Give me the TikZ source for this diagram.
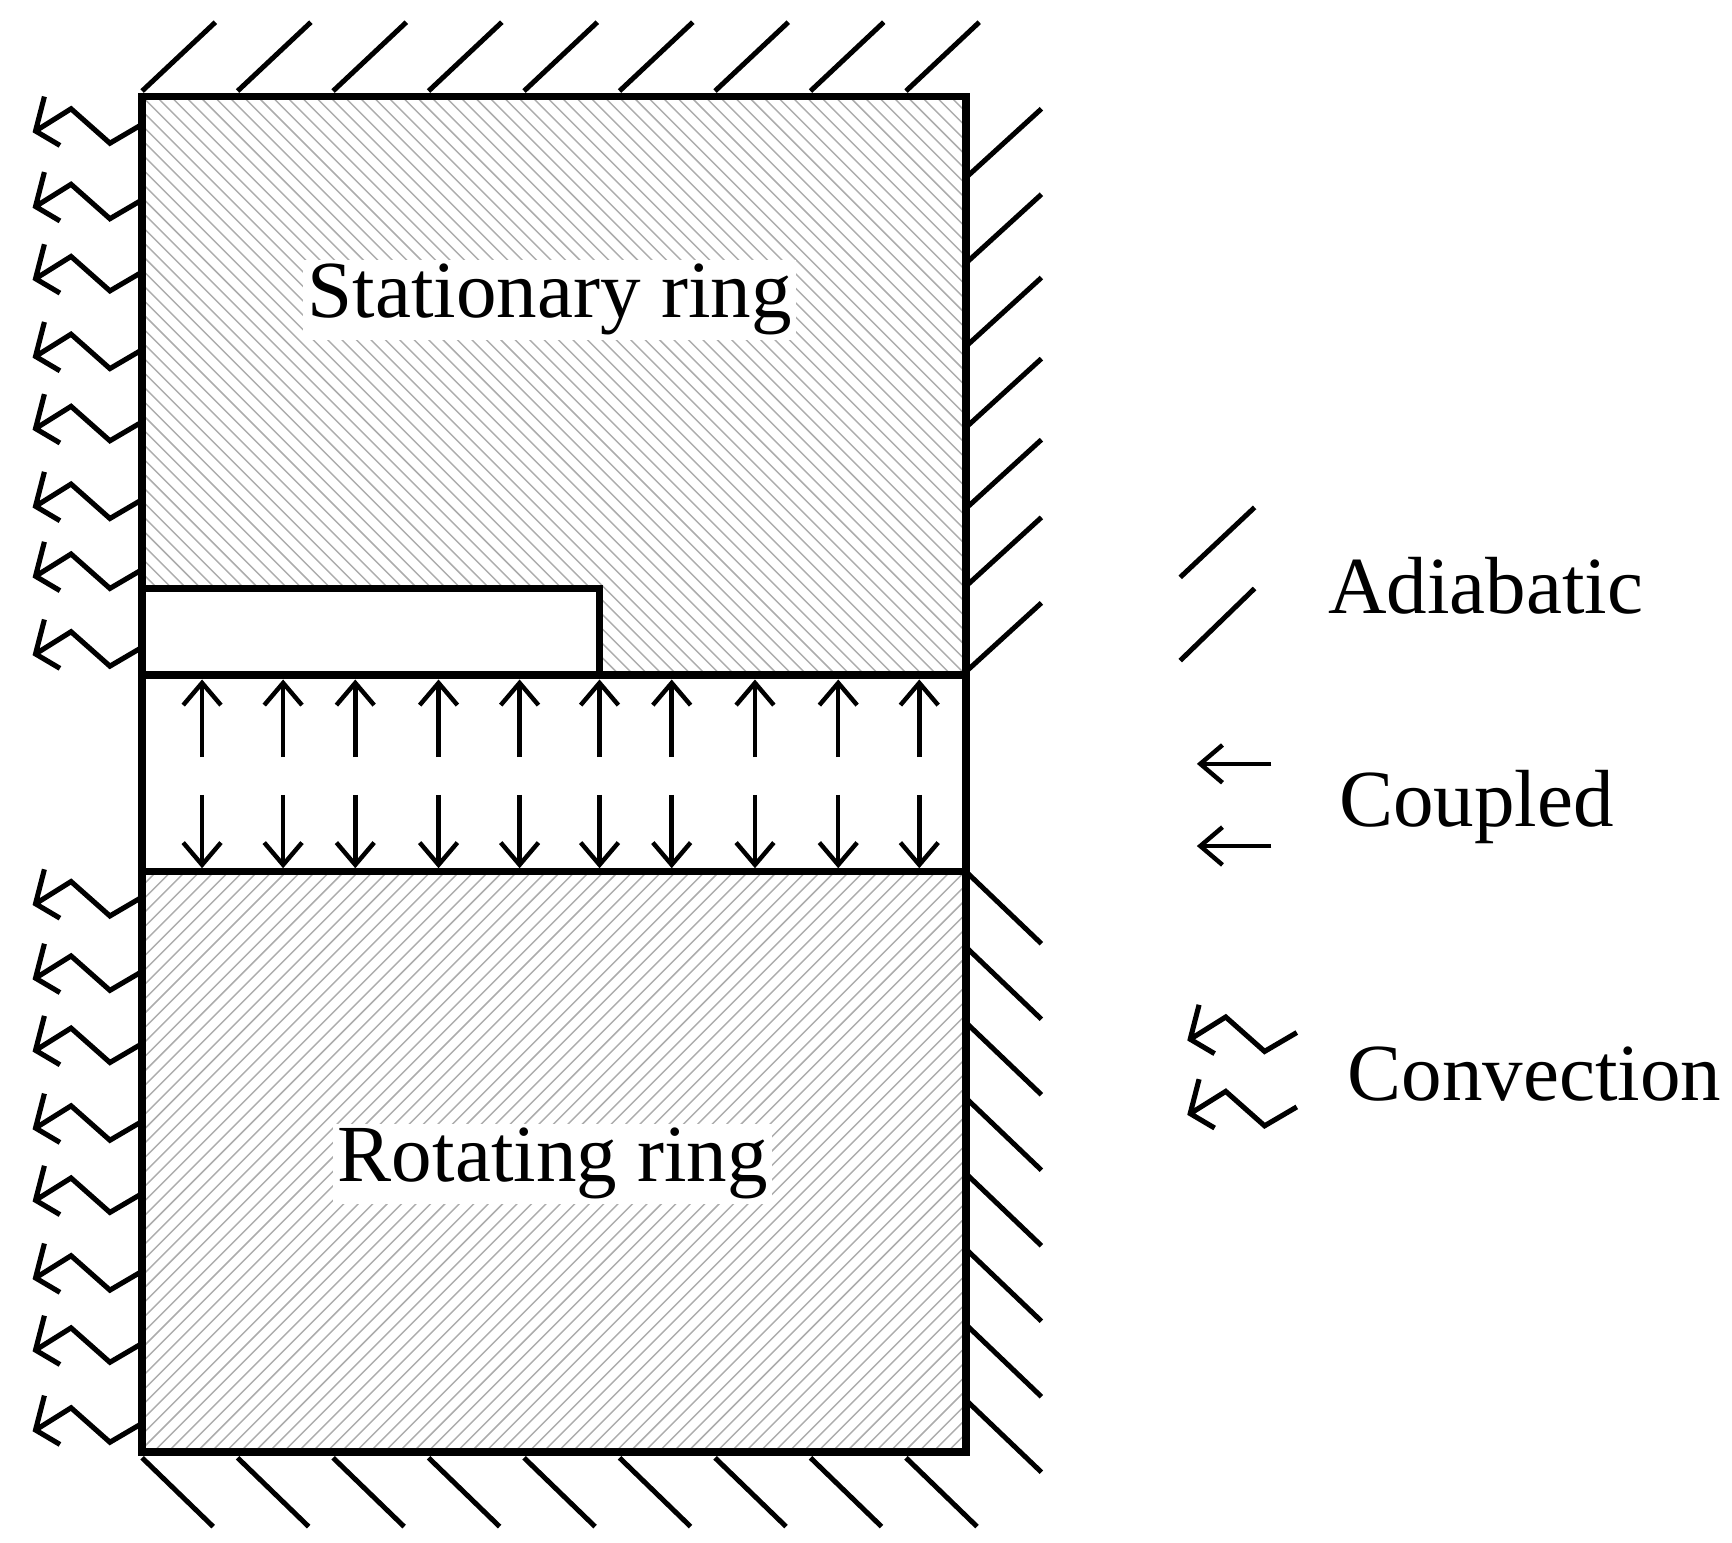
\documentclass[tikz,border=0pt]{standalone}
\usetikzlibrary{arrows.meta}
\usepackage{fontspec}
\setmainfont{Liberation Serif}
\begin{document}
\begin{tikzpicture}[x=1pt,y=-1pt,
  wall/.style={line width=6.8pt},
  tick/.style={line width=4.5pt},
  arr/.style={line width=4pt,-{Straight Barb[length=20pt,width=34pt,line width=4pt]}},
  hatch/.style={gray!65,line width=1.3pt},
  lbl/.style={font=\fontsize{73}{80}\selectfont,inner sep=4pt},
  conv/.pic={\draw[line width=4.6pt,line join=miter] (0,0)--(-29,17)--(-64,-14)--(-96,6) (-88,-25)--(-96,6)--(-74,19);}]
\useasboundingbox (0,0) rectangle (1560,1389);
% hatching
\begin{scope}
\clip (128,87) rectangle (870,608);
\foreach \i in {-50,...,60}{\draw[hatch] (128+\i*13,87)--++(600,600);}
\end{scope}
\begin{scope}
\clip (128,785) rectangle (870,1308);
\foreach \i in {-5,...,110}{\draw[hatch] (128+\i*13,785)--++(-600,600);}
\end{scope}
\fill[white] (128,530) rectangle (540,608);
\node[lbl,fill=white] (st) at (495,270) {Stationary ring};
\node[lbl,fill=white] (rt) at (498,1048) {Rotating ring};
% outlines
\draw[wall] (128,87) rectangle (870,1308);
\draw[wall] (128,608)--(870,608) (128,785)--(870,785);
\draw[wall] (128,530)--(540,530)--(540,608);
% adiabatic ticks
\foreach \k in {0,...,8}{\draw[tick] (128+\k*86,82)--++(66,-62);}
\foreach \y in {160,237,312,385,458,528,605}{\draw[tick] (870,\y)--++(68,-62);}
\foreach \k in {0,...,7}{\draw[tick] (870,785+\k*68)--++(68,65);}
\foreach \k in {0,...,8}{\draw[tick] (128+\k*86,1313)--++(64,62);}
% convection
\foreach \y in {112,180,245,315,380,450,513,583,808,875,940,1010,1075,1145,1210,1282}{\pic at (128,\y) {conv};}
% coupled
\foreach \x in {182,255,320,395,468,540,605,680,755,828}{
  \draw[arr] (\x,682)--(\x,612);
  \draw[arr] (\x,716)--(\x,782);}
% legend
\draw[tick] (1063,520)--(1130,457) (1063,595)--(1130,530);
\node[lbl] (ad) at (1338,528) {Adiabatic};
\coordinate (c1) at (1145,688); \coordinate (c1e) at (1078,688);
\coordinate (c2) at (1145,762); \coordinate (c2e) at (1078,762);
\draw[arr] (c1)--(c1e); \draw[arr] (c2)--(c2e);
\node[lbl] (cp) at (1330,727) {Coupled};
\pic at (1168,930) {conv};
\pic at (1168,997) {conv};
\node[lbl] (cv) at (1382,967) {Convection};
\end{tikzpicture}
\end{document}
